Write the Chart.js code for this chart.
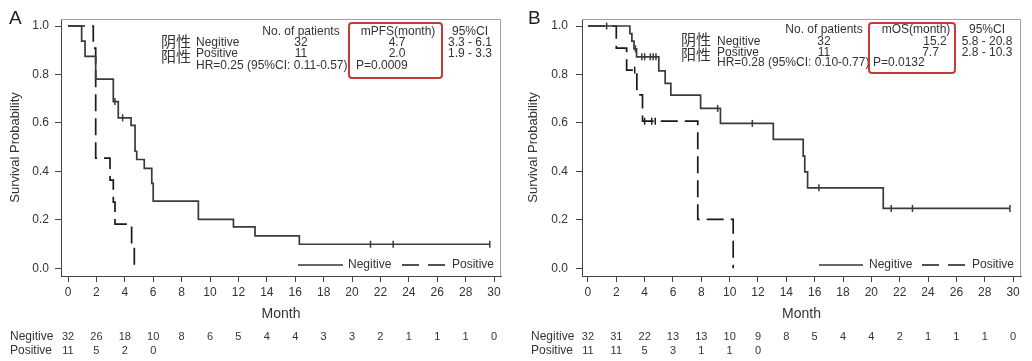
<!DOCTYPE html>
<html lang="en">
<head>
<meta charset="UTF-8">
<title>PFS / OS survival curves</title>
<script src="https://cdn.jsdelivr.net/npm/chart.js"></script>
<style>
  body { margin: 0; background: #fff; }
  #wrap { position: relative; width: 1032px; height: 361px; }
  canvas { position: absolute; top: 0; }
</style>
</head>
<body>
<div id="wrap">
  <canvas id="pfsChart" width="516" height="361" style="left:0"></canvas>
  <canvas id="osChart" width="516" height="361" style="left:516px"></canvas>
</div>
<script>
// shared axis ticks and labels
const monthTicks = [0, 2, 4, 6, 8, 10, 12, 14, 16, 18, 20, 22, 24, 26, 28, 30];
const probTicks = [0, 0.2, 0.4, 0.6, 0.8, 1.0];
const groupNames = ['Negitive', 'Positive'];
const groupNamesZh = ['阴性', '阳性'];
const colHeader = 'No. of patients';
const ciHeader = '95%CI';

// panel A: PFS
const pfsNegTime = [0, 0.96, 1.2, 1.95, 3.19, 3.54, 4.44, 4.72, 4.84, 5.37, 5.9, 6.0, 9.18, 11.65, 13.17, 16.29, 29.7];
const pfsNegSurv = [1.0, 0.938, 0.875, 0.781, 0.688, 0.621, 0.59, 0.483, 0.449, 0.412, 0.35, 0.277, 0.202, 0.171, 0.134, 0.099, 0.099];
const pfsNegCensTime = [3.3, 3.85, 21.3, 22.9, 29.7];
const pfsNegCensSurv = [0.688, 0.621, 0.099, 0.099, 0.099];
const pfsPosTime = [0, 1.78, 1.95, 2.96, 3.19, 3.31, 4.48, 4.67];
const pfsPosSurv = [1.0, 0.909, 0.455, 0.364, 0.273, 0.182, 0.091, 0.0];
const pfsPosCensTime = [];
const pfsPosCensSurv = [];
const pfsPatients = ['32', '11'];
const pfsMedian = ['4.7', '2.0'];
const pfsCI = ['3.3 - 6.1', '1.9 - 3.3'];
const pfsHR = 'HR=0.25 (95%CI: 0.11-0.57)';
const pfsP = 'P=0.0009';
const pfsRiskNeg = [32, 26, 18, 10, 8, 6, 5, 4, 4, 3, 3, 2, 1, 1, 1, 0];
const pfsRiskPos = [11, 5, 2, 0];

// panel B: OS
const osNegTime = [0, 2.96, 3.1, 3.25, 3.43, 5.0, 5.45, 5.85, 7.95, 9.35, 13.08, 15.19, 15.3, 15.5, 20.84, 29.78];
const osNegSurv = [1.0, 0.969, 0.938, 0.906, 0.873, 0.815, 0.763, 0.715, 0.66, 0.598, 0.532, 0.463, 0.398, 0.332, 0.247, 0.247];
const osNegCensTime = [1.32, 3.35, 3.8, 4.0, 4.4, 4.6, 4.8, 9.15, 11.6, 16.3, 21.4, 22.9, 29.78];
const osNegCensSurv = [1.0, 0.906, 0.873, 0.873, 0.873, 0.873, 0.873, 0.66, 0.598, 0.332, 0.247, 0.247, 0.247];
const osPosTime = [0, 2.0, 2.73, 3.45, 3.85, 7.75, 10.25];
const osPosSurv = [1.0, 0.909, 0.818, 0.716, 0.607, 0.202, 0.0];
const osPosCensTime = [3.3, 4.0, 4.5, 4.75];
const osPosCensSurv = [0.818, 0.607, 0.607, 0.607];
const osPatients = ['32', '11'];
const osMedian = ['15.2', '7.7'];
const osCI = ['5.8 - 20.8', '2.8 - 10.3'];
const osHR = 'HR=0.28 (95%CI: 0.10-0.77)';
const osP = 'P=0.0132';
const osRiskNeg = [32, 31, 22, 13, 13, 10, 9, 8, 5, 4, 4, 2, 1, 1, 1, 0];
const osRiskPos = [11, 11, 5, 3, 1, 1, 0];

const FONT = '"Liberation Sans", Arial, sans-serif';
const CJK = '"Noto Sans CJK SC", sans-serif';
Chart.defaults.font.family = FONT;
Chart.defaults.color = '#333';

function pts(t, s) {
    return t.map((v, i) => ({ x: v, y: s[i] }));
}

function textAt(ctx, str, x, y, align, font, baseline) {
    ctx.font = font || '12px ' + FONT;
    ctx.textAlign = align || 'left';
    ctx.textBaseline = baseline || 'middle';
    ctx.fillText(str, x, y);
}

function panelPlugin(p, L) {
    return {
        id: 'panelText',
        afterDraw(chart) {
            const ctx = chart.ctx;
            const a = chart.chartArea;
            ctx.save();
            // top and right frame
            ctx.strokeStyle = '#a0a0a0';
            ctx.lineWidth = 1;
            ctx.beginPath();
            ctx.moveTo(a.left, a.top + 0.5);
            ctx.lineTo(a.right - 0.5, a.top + 0.5);
            ctx.lineTo(a.right - 0.5, a.bottom);
            ctx.stroke();

            ctx.fillStyle = '#222';
            textAt(ctx, L.letter, L.letterX, 19, 'left', '19px ' + FONT);

            // stats block
            ctx.fillStyle = '#333';
            textAt(ctx, colHeader, L.nX, L.headY, 'center');
            textAt(ctx, p.medHeader, L.medHeadX, L.headY, 'center');
            textAt(ctx, ciHeader, L.ciX, L.headY, 'center');
            for (let i = 0; i < 2; i++) {
                textAt(ctx, groupNamesZh[i], L.zhX, L.zhY[i], 'left', '15px ' + CJK, 'alphabetic');
                textAt(ctx, groupNames[i], L.nameX, L.rowY[i]);
                textAt(ctx, p.patients[i], L.nX, L.rowY[i], 'center');
                textAt(ctx, p.median[i], L.medX[i], L.rowY[i], 'center');
                textAt(ctx, p.ci[i], L.ciX, L.rowY[i], 'center');
            }
            textAt(ctx, p.hr, L.nameX, L.hrY);
            textAt(ctx, p.p, L.pX, L.hrY);

            ctx.strokeStyle = '#c33a36';
            ctx.lineWidth = 2;
            ctx.beginPath();
            ctx.roundRect(L.box[0], L.box[1], L.box[2], L.box[3], 3);
            ctx.stroke();

            // legend
            ctx.strokeStyle = '#333';
            ctx.lineWidth = 1.7;
            ctx.beginPath();
            ctx.moveTo(L.legSolid[0], L.legY);
            ctx.lineTo(L.legSolid[1], L.legY);
            ctx.stroke();
            ctx.setLineDash([17, 9]);
            ctx.strokeStyle = '#1a1a1a';
            ctx.beginPath();
            ctx.moveTo(L.legDash[0], L.legY);
            ctx.lineTo(L.legDash[1], L.legY);
            ctx.stroke();
            ctx.setLineDash([]);
            ctx.fillStyle = '#333';
            textAt(ctx, groupNames[0], L.legNegX, L.legY);
            textAt(ctx, groupNames[1], L.legPosX, L.legY);

            // number at risk
            const xs = chart.scales.x;
            textAt(ctx, groupNames[0], L.riskX, L.riskY[0]);
            textAt(ctx, groupNames[1], L.riskX, L.riskY[1]);
            p.riskNeg.forEach((n, i) => {
                textAt(ctx, String(n), xs.getPixelForValue(monthTicks[i]), L.riskY[0], 'center', '11px ' + FONT);
            });
            p.riskPos.forEach((n, i) => {
                textAt(ctx, String(n), xs.getPixelForValue(monthTicks[i]), L.riskY[1], 'center', '11px ' + FONT);
            });
            ctx.restore();
        }
    };
}

function createPanel(canvasId, p, L) {
    const axisColor = '#444';
    new Chart(document.getElementById(canvasId), {
        type: 'scatter',
        data: {
            datasets: [
                { data: pts(p.negT, p.negS), showLine: true, stepped: true, borderColor: '#3a3a3a', borderWidth: 1.7, pointRadius: 0 },
                { data: pts(p.posT, p.posS), showLine: true, stepped: true, borderColor: '#1a1a1a', borderWidth: 1.7, borderDash: [17, 7], pointRadius: 0 },
                { data: pts(p.negCT, p.negCS), pointStyle: 'line', rotation: 90, pointRadius: 3.5, borderColor: '#3a3a3a', borderWidth: 1.5 },
                { data: pts(p.posCT, p.posCS), pointStyle: 'line', rotation: 90, pointRadius: 3.5, borderColor: '#1a1a1a', borderWidth: 1.5 }
            ]
        },
        options: {
            responsive: false,
            animation: false,
            layout: { padding: { left: 0, top: 19, right: 516 - L.areaR, bottom: 34 } },
            plugins: { legend: { display: false }, tooltip: { enabled: false } },
            scales: {
                x: {
                    type: 'linear',
                    min: L.xMin,
                    max: L.xMax,
                    afterBuildTicks: s => { s.ticks = monthTicks.map(v => ({ value: v })); },
                    afterFit: s => { s.height = 51; },
                    grid: { drawOnChartArea: false, drawTicks: true, tickLength: 6, color: axisColor },
                    border: { display: true, color: axisColor, width: 1 },
                    ticks: { font: { size: 12 }, color: '#333', padding: 3, maxRotation: 0, callback: v => String(v) },
                    title: { display: true, text: 'Month', font: { size: 14 }, color: '#333', padding: { top: 4, bottom: 4 } }
                },
                y: {
                    type: 'linear',
                    min: -0.032,
                    max: 1.029,
                    afterBuildTicks: s => { s.ticks = probTicks.map(v => ({ value: v })); },
                    afterFit: s => { s.width = L.areaL; },
                    grid: { drawOnChartArea: false, drawTicks: true, tickLength: 6, color: axisColor },
                    border: { display: true, color: axisColor, width: 1 },
                    ticks: { font: { size: 12 }, color: '#333', padding: L.yTickPad, callback: v => v.toFixed(1) },
                    title: { display: true, text: 'Survival Probability', font: { size: 13 }, color: '#333', padding: { top: L.yTitlePad, bottom: 0 } }
                }
            }
        },
        plugins: [panelPlugin(p, L)]
    });
}

createPanel('pfsChart', {
    negT: pfsNegTime, negS: pfsNegSurv, negCT: pfsNegCensTime, negCS: pfsNegCensSurv,
    posT: pfsPosTime, posS: pfsPosSurv, posCT: pfsPosCensTime, posCS: pfsPosCensSurv,
    medHeader: 'mPFS(month)', patients: pfsPatients, median: pfsMedian, ci: pfsCI, hr: pfsHR, p: pfsP,
    riskNeg: pfsRiskNeg, riskPos: pfsRiskPos
}, {
    letter: 'A', letterX: 9, areaL: 61, areaR: 501, xMin: -0.493, xMax: 30.49, yTickPad: 6, yTitlePad: 8,
    headY: 32, nX: 301, medHeadX: 398, ciX: 470, zhX: 161, zhY: [47, 62], nameX: 196, rowY: [43, 54], hrY: 66,
    medX: [397, 397], pX: 356, box: [349, 23, 93, 55],
    legSolid: [298, 343], legDash: [402, 445], legNegX: 348, legPosX: 452, legY: 265,
    riskX: 10, riskY: [337, 351]
});

createPanel('osChart', {
    negT: osNegTime, negS: osNegSurv, negCT: osNegCensTime, negCS: osNegCensSurv,
    posT: osPosTime, posS: osPosSurv, posCT: osPosCensTime, posCS: osPosCensSurv,
    medHeader: 'mOS(month)', patients: osPatients, median: osMedian, ci: osCI, hr: osHR, p: osP,
    riskNeg: osRiskNeg, riskPos: osRiskPos
}, {
    letter: 'B', letterX: 12, areaL: 66, areaR: 505, xMin: -0.42, xMax: 30.56, yTickPad: 8, yTitlePad: 10,
    headY: 30, nX: 308, medHeadX: 400, ciX: 471, zhX: 165, zhY: [44.5, 59.5], nameX: 201, rowY: [42, 53], hrY: 63,
    medX: [419, 414.5], pX: 357, box: [353, 23, 86, 50],
    legSolid: [303, 347], legDash: [406, 450], legNegX: 353, legPosX: 456, legY: 265,
    riskX: 15, riskY: [337, 351]
});
</script>
</body>
</html>
